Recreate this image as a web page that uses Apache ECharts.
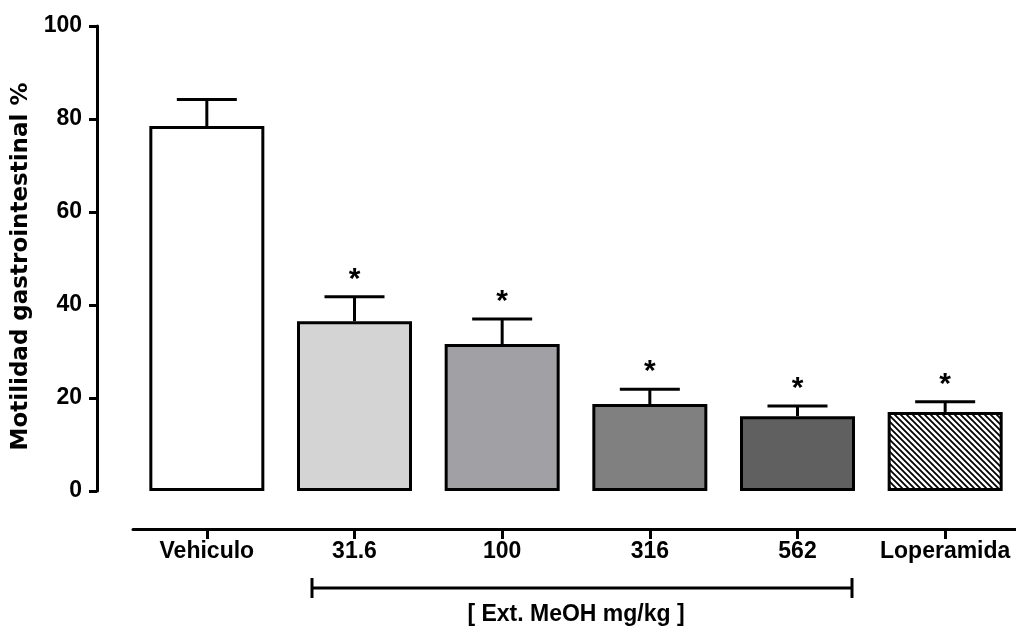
<!DOCTYPE html>
<html>
<head>
<meta charset="utf-8">
<script src="https://cdn.jsdelivr.net/npm/echarts@6/dist/echarts.min.js"></script>
<style>
  html, body { margin: 0; padding: 0; background: #fff; }
  #chart { width: 1016px; height: 627px; }
</style>
</head>
<body>
<div id="chart"></div>
<script>
// grupos y valores (media y limite superior de error)
var categories = ['Vehiculo', '31.6', '100', '316', '562', 'Loperamida']
var means = [78.5, 36.5, 31.6, 18.7, 16.1, 17.0]
var upper = [84.2, 41.8, 37.0, 21.9, 18.3, 19.2]
var signif = [false, true, true, true, true, true]
var yTicks = [0, 20, 40, 60, 80, 100]

var fills = ['#ffffff', '#d4d4d4', '#a1a0a5', '#808080', '#606060', null]

// patron rayado para loperamida
function hatch() {
  var c = document.createElement('canvas')
  c.width = 6
  c.height = 6
  var ctx = c.getContext('2d')
  ctx.fillStyle = '#fff'
  ctx.fillRect(0, 0, 6, 6)
  ctx.strokeStyle = '#000'
  ctx.lineWidth = 1.8
  ctx.beginPath()
  ctx.moveTo(-1, -1); ctx.lineTo(7, 7)
  ctx.moveTo(-4, 2); ctx.lineTo(1, 7)
  ctx.moveTo(5, -1); ctx.lineTo(8, 2)
  ctx.stroke()
  return c
}

var font = 'Liberation Sans, Arial, sans-serif'
var chart = echarts.init(document.getElementById('chart'))

chart.setOption({
  animation: false,
  grid: { left: 133, right: -3, top: 26, bottom: 136, containLabel: false, outerBoundsMode: 'none' },
  xAxis: {
    type: 'category',
    data: categories,
    position: 'bottom',
    offset: 38,
    name: '[ Ext. MeOH mg/kg ]',
    nameLocation: 'middle',
    nameGap: 74,
    nameTextStyle: { fontFamily: font, fontWeight: 'bold', fontSize: 23, color: '#000' },
    axisLine: { onZero: false, lineStyle: { color: '#000', width: 3 } },
    axisTick: { show: true, interval: 0, alignWithLabel: true, length: 10, lineStyle: { color: '#000', width: 3 } },
    axisLabel: { interval: 0, hideOverlap: false, fontFamily: font, fontWeight: 'bold', fontSize: 23, color: '#000', margin: 11 },
    splitLine: { show: false },
  },
  yAxis: {
    type: 'value',
    min: 0,
    max: 100,
    interval: 20,
    offset: 36,
    name: 'Motilidad gastrointestinal %',
    nameLocation: 'middle',
    nameGap: 62,
    nameTextStyle: {
      fontFamily: 'DejaVu Sans, sans-serif', fontWeight: 'bold', fontSize: 23, color: '#000',
      padding: [0, 16, 0, 0],
    },
    axisLine: { show: true, lineStyle: { color: '#000', width: 3 } },
    axisTick: { show: true, length: 8, lineStyle: { color: '#000', width: 3 } },
    axisLabel: {
      fontFamily: font, fontWeight: 'bold', fontSize: 23, color: '#000', margin: 15,
      formatter: function (v) { return yTicks.indexOf(v) >= 0 ? String(v) : '' },
    },
    splitLine: { show: false },
  },
  series: [
    {
      type: 'bar',
      barWidth: 115,
      data: means.map(function (v, i) {
        return {
          value: v,
          itemStyle: {
            color: fills[i] || { image: hatch(), repeat: 'repeat' },
            borderColor: '#000',
            borderWidth: 3,
          },
        }
      }),
      z: 3,
    },
    {
      // barras de error + asteriscos
      type: 'custom',
      data: upper.map(function (u, i) { return [i, means[i], u] }),
      z: 2,
      renderItem: function (params, api) {
        var base = api.coord([api.value(0), api.value(1)])
        var top = api.coord([api.value(0), api.value(2)])
        var half = 30
        var children = [
          { type: 'line', shape: { x1: base[0], y1: base[1], x2: top[0], y2: top[1] }, style: { stroke: '#000', lineWidth: 3 } },
          { type: 'line', shape: { x1: top[0] - half, y1: top[1], x2: top[0] + half, y2: top[1] }, style: { stroke: '#000', lineWidth: 3 } },
        ]
        if (signif[params.dataIndex]) {
          children.push({
            type: 'text',
            style: {
              text: '*', x: top[0], y: top[1] - 2,
              align: 'center', verticalAlign: 'bottom',
              font: 'bold 30px ' + font, fill: '#000',
            },
          })
        }
        return { type: 'group', children: children }
      },
    },
  ],
  graphic: [
    { type: 'line', shape: { x1: 312, y1: 588, x2: 852, y2: 588 }, style: { stroke: '#000', lineWidth: 3 } },
    { type: 'line', shape: { x1: 312, y1: 578, x2: 312, y2: 598 }, style: { stroke: '#000', lineWidth: 3 } },
    { type: 'line', shape: { x1: 852, y1: 578, x2: 852, y2: 598 }, style: { stroke: '#000', lineWidth: 3 } },
  ],
})
</script>
</body>
</html>
